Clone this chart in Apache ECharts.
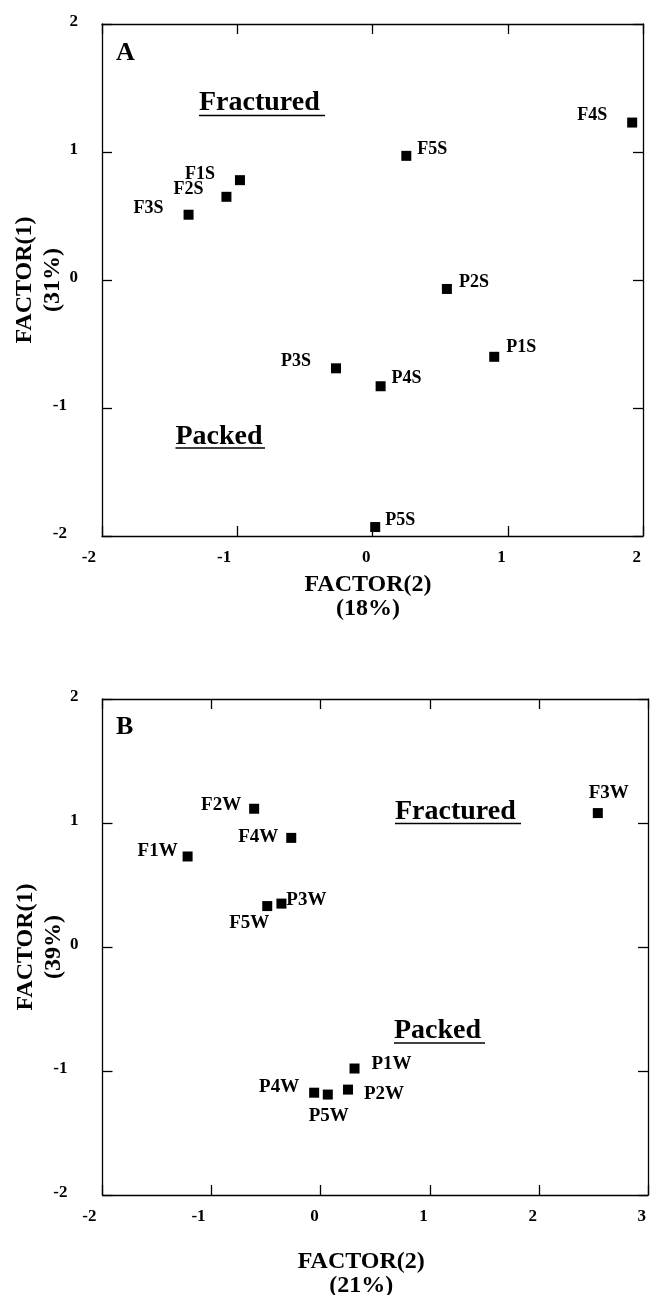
<!DOCTYPE html>
<html>
<head>
<meta charset="utf-8">
<script src="https://cdn.jsdelivr.net/npm/echarts@6/dist/echarts.min.js"></script>
<style>
  html, body { margin: 0; padding: 0; background: #fff; }
  #chart { width: 650px; height: 1295px; }
</style>
</head>
<body>
<div id="chart"></div>
<script>
// panel A (S samples)
const namesA = ['F1S', 'F2S', 'F3S', 'F4S', 'F5S', 'P1S', 'P2S', 'P3S', 'P4S', 'P5S'];
const factor2A = [-0.98, -1.08, -1.36, 1.92, 0.25, 0.90, 0.55, -0.27, 0.06, 0.02];
const factor1A = [0.78, 0.65, 0.51, 1.23, 0.97, -0.60, -0.07, -0.69, -0.83, -1.93];

// panel B (W samples)
const namesB = ['F1W', 'F2W', 'F3W', 'F4W', 'F5W', 'P1W', 'P2W', 'P3W', 'P4W', 'P5W'];
const factor2B = [-1.22, -0.61, 2.54, -0.27, -0.49, 0.31, 0.25, -0.36, -0.06, 0.065];
const factor1B = [0.73, 1.115, 1.08, 0.88, 0.33, -0.98, -1.15, 0.35, -1.175, -1.19];

const xTicksA = [-2, -1, 0, 1, 2];
const xTicksB = [-2, -1, 0, 1, 2, 3];
const yTicks = [-2, -1, 0, 1, 2];

// where each point label sits relative to its marker (px)
const labelShift = {
  F4S: [-40, -7], F5S: [26, -6], F1S: [-40, -6], F2S: [-38, -7], F3S: [-40, -6],
  P2S: [27, -7], P1S: [27, -9], P3S: [-40, -7], P4S: [26, -8], P5S: [25, -7],
  F3W: [11, -20], F2W: [-33, -4], F4W: [-33, -1], F1W: [-30, -5], P3W: [25, -4],
  F5W: [-18, 17], P1W: [37, -4], P2W: [36, 4], P4W: [-35, -6], P5W: [1, 22]
};

const font = 'Liberation Serif';
const line = { onZero: false, lineStyle: { color: '#000', width: 1.3 } };
const tick = { inside: true, length: 10, lineStyle: { color: '#000', width: 1.3 } };

function points(names, xs, ys) {
  return names.map((n, i) => ({
    name: n,
    value: [xs[i], ys[i]],
    label: { offset: labelShift[n] }
  }));
}

function tickFmt(v) {
  return v < 0 ? '{n|' + v + '}' : '' + v;
}

function mainX(grid, ticks, gap, shift) {
  return {
    type: 'value', gridIndex: grid, position: 'bottom',
    min: ticks[0], max: ticks[ticks.length - 1], interval: 1,
    axisLine: line, axisTick: tick,
    splitLine: { show: false },
    axisLabel: {
      margin: 13, align: 'right', padding: [0, 2, 0, 0],
      color: '#000', fontFamily: font, fontWeight: 'bold', fontSize: 17,
      formatter: tickFmt,
      rich: { n: { color: '#000', fontFamily: font, fontWeight: 'bold', fontSize: 17, padding: [0, 4, 0, 0] } }
    },
    name: 'FACTOR(2)\n' + (grid === 0 ? '(18%)' : '(21%)'),
    nameLocation: 'middle', nameGap: gap, nameMoveOverlap: false,
    nameTextStyle: {
      color: '#000', fontFamily: font, fontWeight: 'bold', fontSize: 24, lineHeight: 24,
      padding: [0, shift, 0, 0]
    }
  };
}

function topX(grid, ticks) {
  return {
    type: 'value', gridIndex: grid, position: 'top',
    min: ticks[0], max: ticks[ticks.length - 1], interval: 1,
    axisLine: line, axisTick: tick,
    axisLabel: { show: false }, splitLine: { show: false }
  };
}

function mainY(grid, pct) {
  return {
    type: 'value', gridIndex: grid, position: 'left',
    min: yTicks[0], max: yTicks[yTicks.length - 1], interval: 1,
    axisLine: line, axisTick: tick,
    splitLine: { show: false },
    axisLabel: {
      margin: 24, padding: [0, 0, 5, 0],
      color: '#000', fontFamily: font, fontWeight: 'bold', fontSize: 17,
      formatter: tickFmt,
      rich: { n: { color: '#000', fontFamily: font, fontWeight: 'bold', fontSize: 17, padding: [0, 11, 0, 0] } }
    },
    name: 'FACTOR(1)\n' + pct,
    nameLocation: 'middle', nameGap: 35, nameMoveOverlap: false,
    nameTextStyle: { color: '#000', fontFamily: font, fontWeight: 'bold', fontSize: 24, lineHeight: 28 }
  };
}

function rightY(grid) {
  return {
    type: 'value', gridIndex: grid, position: 'right',
    min: yTicks[0], max: yTicks[yTicks.length - 1], interval: 1,
    axisLine: line, axisTick: tick,
    axisLabel: { show: false }, splitLine: { show: false }
  };
}

function pointSeries(x, y, data, size) {
  return {
    type: 'scatter', xAxisIndex: x, yAxisIndex: y,
    symbol: 'rect', symbolSize: 10,
    itemStyle: { color: '#000', opacity: 1 },
    label: {
      show: true, position: 'inside', formatter: '{b}',
      color: '#000', fontFamily: font, fontWeight: 'bold', fontSize: size
    },
    emphasis: { disabled: true },
    data: data
  };
}

function word(text, x, y, size) {
  return {
    type: 'text', x: x, y: y,
    style: { text: text, fill: '#000', font: 'bold ' + size + 'px "' + font + '"', align: 'left', verticalAlign: 'middle' }
  };
}

function underline(x1, x2, y) {
  return {
    type: 'line', shape: { x1: x1, y1: y, x2: x2, y2: y },
    style: { stroke: '#000', lineWidth: 1.5 }
  };
}

const chart = echarts.init(document.getElementById('chart'));
chart.setOption({
  backgroundColor: '#fff',
  animation: false,
  grid: [
    { left: 102, top: 24, width: 541, height: 512, containLabel: false, outerBoundsMode: 'none' },
    { left: 102.5, top: 699, width: 545.5, height: 496, containLabel: false, outerBoundsMode: 'none' }
  ],
  xAxis: [mainX(0, xTicksA, 37, 9), topX(0, xTicksA), mainX(1, xTicksB, 55, 28), topX(1, xTicksB)],
  yAxis: [mainY(0, '(31%)'), rightY(0), mainY(1, '(39%)'), rightY(1)],
  series: [
    pointSeries(0, 0, points(namesA, factor2A, factor1A), 18),
    pointSeries(2, 2, points(namesB, factor2B, factor1B), 19)
  ],
  graphic: [
    word('A', 116, 53, 26),
    word('Fractured', 199, 103, 28),
    underline(199, 325, 115.5),
    word('Packed', 175.5, 436.5, 28),
    underline(175.5, 265, 448),
    word('B', 116, 727, 26),
    word('Fractured', 395, 811.5, 28),
    underline(395, 521, 823.5),
    word('Packed', 394, 1031, 28),
    underline(394, 485, 1043)
  ]
});
</script>
</body>
</html>
